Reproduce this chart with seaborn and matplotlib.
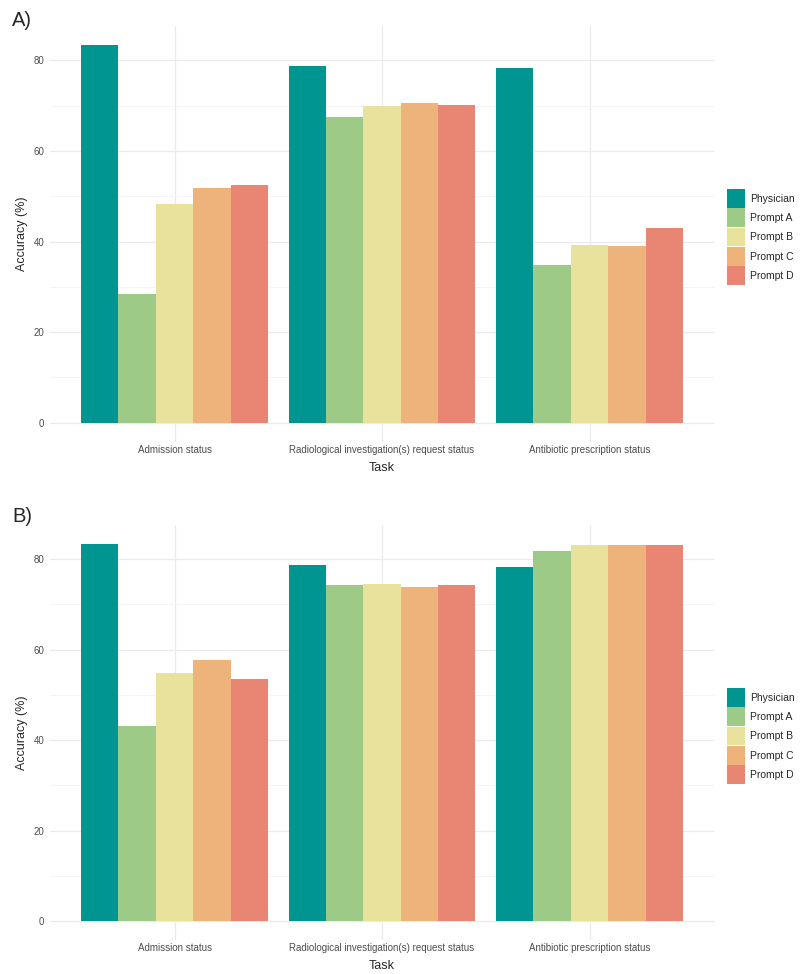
import pandas as pd
import seaborn as sns
import matplotlib.pyplot as plt

# Tasks and groups
tasks = ['Admission status', 'Radiological investigation(s) request status',
         'Antibiotic prescription status']
groups = ['Physician', 'Prompt A', 'Prompt B', 'Prompt C', 'Prompt D']

# Accuracy (%) per group, one value per task - panel A
acc_a_physician = [83.4, 78.7, 78.2]
acc_a_prompt_a = [28.5, 67.4, 34.8]
acc_a_prompt_b = [48.2, 70.0, 39.3]
acc_a_prompt_c = [51.9, 70.5, 39.0]
acc_a_prompt_d = [52.5, 70.1, 43.1]

# Accuracy (%) per group - panel B
acc_b_physician = [83.4, 78.8, 78.2]
acc_b_prompt_a = [43.1, 74.4, 81.8]
acc_b_prompt_b = [54.8, 74.5, 83.1]
acc_b_prompt_c = [57.7, 73.9, 83.2]
acc_b_prompt_d = [53.5, 74.4, 83.2]

colors = ['#009591', '#9DCB87', '#E8E29D', '#EEB27B', '#E98573']


def to_long(series):
    rows = []
    for g, vals in zip(groups, series):
        for t, v in zip(tasks, vals):
            rows.append({'Task': t, 'Group': g, 'Accuracy': v})
    return pd.DataFrame(rows)


df_a = to_long([acc_a_physician, acc_a_prompt_a, acc_a_prompt_b,
                acc_a_prompt_c, acc_a_prompt_d])
df_b = to_long([acc_b_physician, acc_b_prompt_a, acc_b_prompt_b,
                acc_b_prompt_c, acc_b_prompt_d])

sns.set_theme(style='white')
plt.rcParams['font.family'] = ['Liberation Sans', 'DejaVu Sans']

fig = plt.figure(figsize=(8, 9.74), dpi=100)
W, H = 800, 974

# axes boxes in pixels: left, top, right, bottom
boxes = [(50, 26, 714, 441.7), (50, 525, 714, 940)]
panel_labels = [('A)', 21), ('B)', 517)]

for df, box, (lab, lab_y) in zip([df_a, df_b], boxes, panel_labels):
    l, t, r, b = box
    ax = fig.add_axes([l / W, 1 - b / H, (r - l) / W, (b - t) / H])
    sns.barplot(data=df, x='Task', y='Accuracy', hue='Group', order=tasks,
                hue_order=groups, palette=colors, width=0.9, gap=0,
                saturation=1, errorbar=None, linewidth=0, ax=ax, zorder=3)
    top = df['Accuracy'].max()
    ax.set_ylim(-0.05 * top, top * 1.05)
    ax.set_xlim(-0.6, 2.6)
    ax.set_yticks([0, 20, 40, 60, 80])
    ax.set_yticks([10, 30, 50, 70], minor=True)
    ax.grid(True, which='major', axis='both', color='#EBEBEB', lw=0.9, zorder=0)
    ax.grid(True, which='minor', axis='y', color='#F3F3F3', lw=0.6, zorder=0)
    ax.set_axisbelow(True)
    for s in ax.spines.values():
        s.set_visible(False)
    ax.tick_params(axis='both', which='both', length=0, labelsize=7,
                   labelcolor='#4D4D4D')
    ax.tick_params(axis='x', pad=2.5)
    ax.tick_params(axis='y', pad=4)
    ax.set_xlabel('Task', fontsize=9, labelpad=5)
    ax.set_ylabel('Accuracy (%)', fontsize=9, labelpad=4)

    # legend sits right of the panel, centred on the plot area
    sns.move_legend(ax, loc='center left',
                    bbox_to_anchor=((727 - l) / (r - l), (b - (t + 211)) / (b - t)),
                    frameon=False, title=None, fontsize=7.5,
                    handlelength=1.75, handleheight=2.35, labelspacing=0.08,
                    handletextpad=0.5, borderpad=0, borderaxespad=0)

    fig.text(12 / W, 1 - lab_y / H, lab, fontsize=14.5, ha='left', va='center')

fig.savefig('out.png', dpi=100)
